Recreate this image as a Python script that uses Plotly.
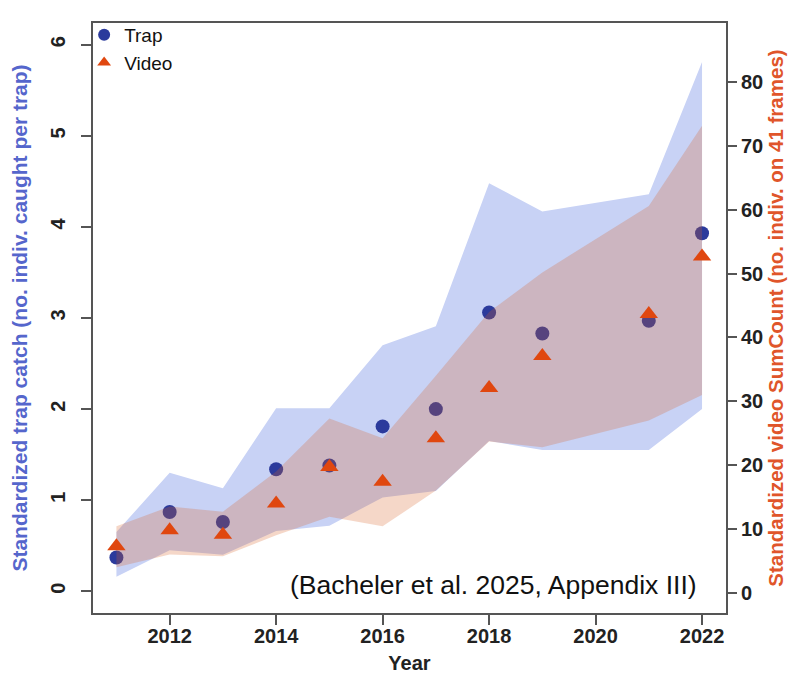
import plotly.graph_objects as go

years = [2011, 2012, 2013, 2014, 2015, 2016, 2017, 2018, 2019, 2021, 2022]
trap = [0.37, 0.87, 0.76, 1.34, 1.38, 1.81, 2.00, 3.06, 2.83, 2.97, 3.93]
trap_lo = [0.16, 0.45, 0.40, 0.66, 0.72, 1.03, 1.10, 1.65, 1.55, 1.55, 2.00]
trap_hi = [0.65, 1.30, 1.13, 2.01, 2.01, 2.70, 2.91, 4.48, 4.17, 4.36, 5.81]
video = [7.3, 9.8, 9.1, 14.0, 19.7, 17.4, 24.2, 32.1, 37.1, 43.7, 52.7]
video_lo = [4.0, 6.0, 5.7, 9.0, 11.9, 10.4, 16.0, 23.7, 22.8, 27.0, 31.0]
video_hi = [10.4, 13.5, 12.7, 19.0, 27.3, 24.2, 34.0, 44.0, 50.2, 60.6, 73.2]
x_ticks = [2012, 2014, 2016, 2018, 2020, 2022]
left_ticks = [0, 1, 2, 3, 4, 5, 6]
right_ticks = [0, 10, 20, 30, 40, 50, 60, 70, 80]

FONT = "Liberation Sans, Arial, sans-serif"
AXC = "#555555"

fig = go.Figure()
fig.add_trace(go.Scatter(
    x=years + years[::-1], y=trap_hi + trap_lo[::-1], fill="toself",
    fillcolor="rgb(200,210,245)", line=dict(width=0), mode="lines",
    showlegend=False, hoverinfo="skip", yaxis="y"))
fig.add_trace(go.Scatter(
    x=years, y=trap, mode="markers", name="Trap",
    marker=dict(symbol="circle", size=14, color="#2b3a9c"), yaxis="y"))
fig.add_trace(go.Scatter(
    x=years + years[::-1], y=video_hi + video_lo[::-1], fill="toself",
    fillcolor="rgba(216,96,36,0.25)", line=dict(width=0), mode="lines",
    showlegend=False, hoverinfo="skip", yaxis="y2"))
fig.add_trace(go.Scatter(
    x=years, y=video, mode="markers", name="Video",
    marker=dict(symbol="triangle-up", size=16, color="#e0470f"), yaxis="y2"))

fig.add_annotation(
    text="(Bacheler et al. 2025, Appendix III)", xref="paper", yref="paper",
    x=0.958, y=0.047, xanchor="right", yanchor="middle", showarrow=False,
    font=dict(family=FONT, size=26.5, color="#111111"))

fig.update_layout(
    width=797, height=681,
    margin=dict(l=85, r=79, t=8, b=76),
    paper_bgcolor="white", plot_bgcolor="white",
    font=dict(family=FONT, color="#222222"),
    legend=dict(x=-0.014, y=1.012, xanchor="left", yanchor="top",
                bgcolor="rgba(0,0,0,0)", font=dict(size=19, color="#111111"),
                tracegroupgap=0, itemsizing="constant"),
    xaxis=dict(
        range=[2010.56, 2022.45], tickvals=x_ticks, ticks="outside", ticklen=10,
        tickcolor=AXC, tickwidth=1.5, showline=True, linecolor=AXC, linewidth=1.5,
        mirror=True, showgrid=False, zeroline=False, automargin=False,
        ticklabelstandoff=-6,
        tickfont=dict(size=20, color="#222222", weight="bold"),
        title=dict(text="Year", font=dict(size=20, color="#222222", weight="bold"), standoff=10)),
    yaxis=dict(
        range=[-0.239, 6.239], tickvals=left_ticks, ticks="outside", ticklen=10,
        tickcolor=AXC, tickwidth=1.5, showline=True, linecolor=AXC, linewidth=1.5,
        mirror=True, showgrid=False, zeroline=False, tickangle=-90,
        ticklabelstandoff=8, automargin=False,
        tickfont=dict(size=20, color="#222222", weight="bold"),
        title=dict(text="Standardized trap catch (no. indiv. caught per trap)",
                   font=dict(size=21, color="#5566cc", weight="bold"), standoff=22)),
    yaxis2=dict(
        range=[-3.18, 89.29], tickvals=right_ticks, ticks="outside", ticklen=10,
        tickcolor=AXC, tickwidth=1.5, overlaying="y", side="right",
        showline=False, showgrid=False, zeroline=False, automargin=False,
        tickfont=dict(size=20, color="#222222", weight="bold"),
        title=dict(text="Standardized video SumCount (no. indiv. on 41 frames)",
                   font=dict(size=20.5, color="#e0552a", weight="bold"), standoff=6)),
)

fig.write_html("out.html")
